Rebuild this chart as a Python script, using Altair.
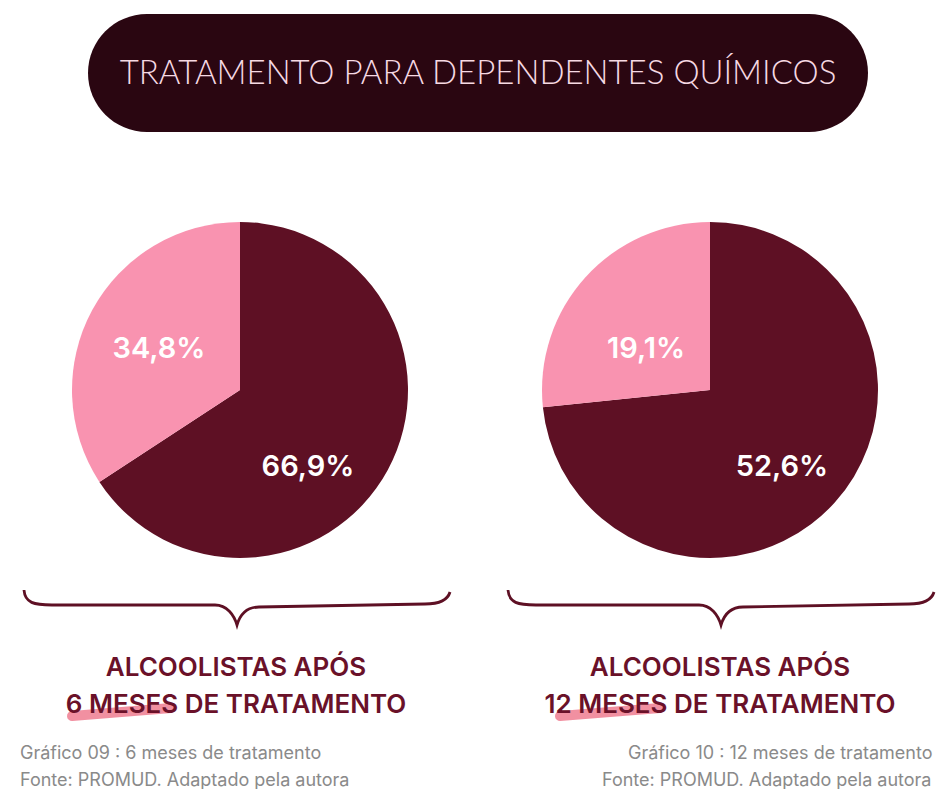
import altair as alt
import pandas as pd

# ---- data ----
periods = ["6 meses", "12 meses"]
pink_values = [34.8, 19.1]
dark_values = [66.9, 52.6]
pink_labels = ["34,8%", "19,1%"]
dark_labels = ["66,9%", "52,6%"]
headings_1 = ["ALCOOLISTAS APÓS", "ALCOOLISTAS APÓS"]
headings_2 = ["6 MESES DE TRATAMENTO", "12 MESES DE TRATAMENTO"]
captions_1 = ["Gráfico 09 : 6 meses de tratamento", "Gráfico 10 : 12 meses de tratamento"]
captions_2 = ["Fonte: PROMUD. Adaptado pela autora", "Fonte: PROMUD. Adaptado pela autora"]
title_text = "TRATAMENTO PARA DEPENDENTES QUÍMICOS"

DARK = "#5e1024"
PINK = "#f993b0"
BANNER = "#2a0611"
HEAD = "#6a1129"
GREY = "#8a8a8a"
FONT = "Inter"

OFF = 8  # page margin


def P(v):
    return v - OFF


one = pd.DataFrame({"k": [0]})

layers = []

# banner
layers.append(
    alt.Chart(one).mark_rect(color=BANNER, cornerRadius=59).encode(
        x=alt.value(P(88)), x2=alt.value(P(868)), y=alt.value(P(14)), y2=alt.value(P(132))
    )
)
layers.append(
    alt.Chart(one).mark_text(
        text=title_text, font="Lato", fontWeight=300, fontSize=33, color="#f6d9e3",
        align="center", baseline="middle"
    ).encode(x=alt.value(P(478)), y=alt.value(P(74)))
)

pie_cx = [240, 710]
pie_cy = 390
pink_pos = [(159, 349), (646, 349)]
dark_pos = [(308, 467), (782, 467)]
brace_cx = [237, 721]
head_cx = [236, 720]
hl = [((72, 716), (171, 708)), ((560, 716), (660, 708))]
cap_x = [20, 628]
cap2_x = [20, 602]

# brace path (relative px / half width)
H = 212.5
segs = [
    ("M", [(-213, -17)]),
    ("C", [(-212, -4), (-203, -2), (-185, -2)]),
    ("L", [(-22, -2)]),
    ("C", [(-10, -2), (-3, 8), (0, 18)]),
    ("C", [(3, 8), (10, 0), (22, 0)]),
    ("L", [(188, -3)]),
    ("C", [(205, -3), (211, -8), (213, -15)]),
]
brace_path = " ".join(
    c + " " + " ".join(f"{x / H:.4f},{y / H:.4f}" for x, y in pts) for c, pts in segs
)

for i, per in enumerate(periods):
    df = pd.DataFrame({
        "periodo": [per, per],
        "grupo": ["dark", "pink"],
        "valor": [dark_values[i], pink_values[i]],
        "ord": [0, 1],
    })
    layers.append(
        alt.Chart(df).mark_arc(outerRadius=168).encode(
            theta=alt.Theta("valor:Q", stack=True),
            color=alt.Color("grupo:N", scale=alt.Scale(domain=["dark", "pink"], range=[DARK, PINK]), legend=None),
            order=alt.Order("ord:Q"),
            x=alt.value(P(pie_cx[i])),
            y=alt.value(P(pie_cy)),
        )
    )
    lab = pd.DataFrame({"t": [pink_labels[i]]})
    layers.append(
        alt.Chart(lab).mark_text(font=FONT, fontWeight=600, fontSize=29, color="white",
                                 align="center", baseline="middle").encode(
            text="t:N", x=alt.value(P(pink_pos[i][0])), y=alt.value(P(pink_pos[i][1]))
        )
    )
    lab2 = pd.DataFrame({"t": [dark_labels[i]]})
    layers.append(
        alt.Chart(lab2).mark_text(font=FONT, fontWeight=600, fontSize=29, color="white",
                                  align="center", baseline="middle").encode(
            text="t:N", x=alt.value(P(dark_pos[i][0])), y=alt.value(P(dark_pos[i][1]))
        )
    )
    # brace
    layers.append(
        alt.Chart(one).mark_point(shape=brace_path, size=(2 * H) ** 2, filled=False,
                                  stroke=DARK, strokeWidth=2.8, opacity=1).encode(
            x=alt.value(P(brace_cx[i])), y=alt.value(P(607))
        )
    )
    # highlighter
    (x1, y1), (x2, y2) = hl[i]
    layers.append(
        alt.Chart(one).mark_rule(color="#ee7489", strokeWidth=10, strokeCap="round", opacity=0.8).encode(
            x=alt.value(P(x1)), y=alt.value(P(y1)), x2=alt.value(P(x2)), y2=alt.value(P(y2))
        )
    )
    h1 = pd.DataFrame({"t": [headings_1[i]]})
    layers.append(
        alt.Chart(h1).mark_text(font=FONT, fontWeight=600, fontSize=26, color=HEAD,
                                align="center", baseline="middle").encode(
            text="t:N", x=alt.value(P(head_cx[i])), y=alt.value(P(668))
        )
    )
    h2 = pd.DataFrame({"t": [headings_2[i]]})
    layers.append(
        alt.Chart(h2).mark_text(font=FONT, fontWeight=600, fontSize=26, color=HEAD,
                                align="center", baseline="middle").encode(
            text="t:N", x=alt.value(P(head_cx[i])), y=alt.value(P(705))
        )
    )
    c1 = pd.DataFrame({"t": [captions_1[i]]})
    layers.append(
        alt.Chart(c1).mark_text(font=FONT, fontSize=18, color=GREY,
                                align="left", baseline="middle").encode(
            text="t:N", x=alt.value(P(cap_x[i])), y=alt.value(P(754))
        )
    )
    c2 = pd.DataFrame({"t": [captions_2[i]]})
    layers.append(
        alt.Chart(c2).mark_text(font=FONT, fontSize=18, color=GREY,
                                align="left", baseline="middle").encode(
            text="t:N", x=alt.value(P(cap2_x[i])), y=alt.value(P(781))
        )
    )

chart = alt.layer(*layers).resolve_scale(theta="independent", color="independent").properties(
    width=928, height=781, padding=0, autosize=alt.AutoSizeParams(type="none"),
    background="white"
).configure_view(stroke=None)

chart.save("out.html", embed_options={"renderer": "svg", "actions": False})
